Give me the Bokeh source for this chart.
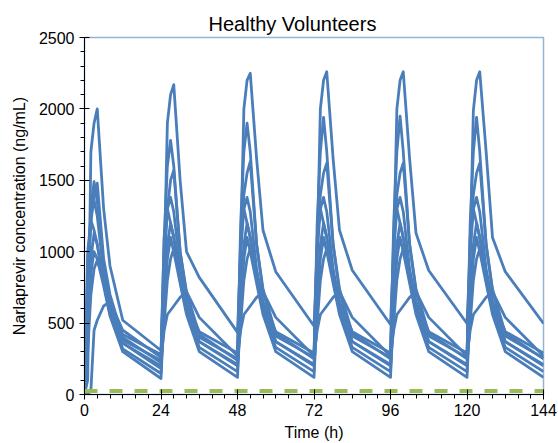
from bokeh.plotting import figure
from bokeh.models import Range1d, FixedTicker
from bokeh.embed import file_html
from bokeh.resources import INLINE

# ---- data ----
time_h = [0, 1, 2, 3, 4, 6, 8, 12,
          24, 25, 26, 27, 28, 30, 32, 36,
          48, 49, 50, 51, 52, 54, 56, 60,
          72, 73, 74, 75, 76, 78, 80, 84,
          96, 97, 98, 99, 100, 102, 104, 108,
          120, 121, 122, 123, 124, 126, 128, 132,
          144]

subj_a = [0, 100, 1700, 1900, 2000, 1300, 900, 520,
          308, 900, 1900, 2100, 2170, 1500, 1000, 820,
          435, 1000, 2000, 2200, 2250, 1650, 1150, 860,
          480, 1000, 2000, 2200, 2260, 1650, 1150, 870,
          490, 1000, 2000, 2200, 2260, 1650, 1130, 868,
          497, 1000, 1990, 2200, 2260, 1700, 1100, 860,
          497]
subj_b = [0, 800, 1300, 1490, 1350, 900, 650, 380,
          240, 1100, 1600, 1780, 1600, 1000, 700, 400,
          250, 1200, 1700, 1900, 1700, 1050, 720, 410,
          260, 1200, 1700, 1940, 1700, 1050, 720, 410,
          260, 1200, 1700, 1950, 1700, 1050, 720, 410,
          260, 1200, 1700, 1940, 1700, 1050, 720, 410,
          255]
subj_c = [0, 700, 1200, 1400, 1480, 950, 700, 400,
          224, 900, 1300, 1500, 1570, 1000, 720, 420,
          240, 1000, 1400, 1550, 1630, 1050, 740, 430,
          250, 1000, 1400, 1550, 1620, 1050, 740, 430,
          250, 1000, 1400, 1550, 1620, 1050, 740, 430,
          250, 1000, 1400, 1550, 1620, 1050, 740, 430,
          250]
subj_d = [0, 900, 1250, 1360, 1250, 850, 620, 360,
          182, 1000, 1300, 1380, 1280, 880, 640, 370,
          200, 1000, 1300, 1380, 1280, 880, 640, 370,
          200, 1000, 1300, 1380, 1280, 880, 640, 370,
          200, 1000, 1300, 1380, 1280, 880, 640, 370,
          200, 1000, 1300, 1380, 1280, 880, 640, 370,
          200]
subj_e = [0, 1000, 1220, 1150, 1050, 800, 600, 420,
          280, 1100, 1300, 1200, 1100, 850, 650, 440,
          290, 1100, 1300, 1200, 1100, 850, 650, 440,
          290, 1100, 1300, 1200, 1100, 850, 650, 440,
          290, 1100, 1300, 1200, 1100, 850, 650, 440,
          290, 1100, 1300, 1200, 1100, 850, 650, 440,
          290]
subj_f = [0, 500, 950, 1130, 1050, 780, 560, 320,
          147, 700, 1050, 1200, 1100, 800, 580, 330,
          160, 700, 1050, 1200, 1100, 800, 580, 330,
          160, 700, 1050, 1200, 1100, 800, 580, 330,
          160, 700, 1050, 1200, 1100, 800, 580, 330,
          160, 700, 1050, 1200, 1100, 800, 580, 330,
          160]
subj_g = [0, 400, 850, 1000, 950, 760, 550, 300,
          112, 600, 950, 1100, 1000, 780, 560, 300,
          120, 600, 950, 1100, 1000, 780, 560, 300,
          120, 600, 950, 1100, 1000, 780, 560, 300,
          120, 600, 950, 1100, 1000, 780, 560, 300,
          120, 600, 950, 1100, 1000, 780, 560, 300,
          120]
subj_h = [0, 300, 700, 880, 940, 800, 600, 360,
          200, 500, 800, 950, 1020, 850, 620, 370,
          210, 500, 800, 950, 1020, 850, 620, 370,
          210, 500, 800, 950, 1020, 850, 620, 370,
          210, 500, 800, 950, 1020, 850, 620, 370,
          210, 500, 800, 950, 1020, 850, 620, 370,
          210]
subj_i = [0, 0, 30, 450, 520, 620, 650, 450,
          260, 450, 560, 590, 620, 680, 720, 540,
          270, 450, 560, 590, 620, 680, 720, 540,
          270, 450, 560, 590, 620, 680, 720, 540,
          270, 450, 560, 590, 620, 680, 720, 540,
          270, 450, 560, 590, 620, 680, 720, 540,
          270]
subjects = [subj_a, subj_b, subj_c, subj_d, subj_e, subj_f, subj_g, subj_h, subj_i]

lloq_time = [0, 144]
lloq_conc = [25, 25]

x_ticks = [0, 24, 48, 72, 96, 120, 144]
x_minor = [4, 8, 12, 16, 20, 28, 32, 36, 40, 44, 52, 56, 60, 64, 68,
           76, 80, 84, 88, 92, 100, 104, 108, 112, 116, 124, 128, 132, 136, 140]
y_ticks = [0, 500, 1000, 1500, 2000, 2500]
y_minor = [100, 200, 300, 400, 600, 700, 800, 900, 1100, 1200, 1300, 1400,
           1600, 1700, 1800, 1900, 2100, 2200, 2300, 2400]

FONT = "Liberation Sans"

p = figure(width=558, height=443, x_range=Range1d(0, 144), y_range=Range1d(0, 2500),
           output_backend="svg", toolbar_location=None, title="Healthy  Volunteers",
           min_border_left=84, min_border_right=15, min_border_top=37, min_border_bottom=49)

p.title.align = "left"
p.title.offset = 124
p.title.text_font = FONT
p.title.text_font_style = "normal"
p.title.text_font_size = "20px"
p.title.text_color = "#000000"
p.title.standoff = 6

p.xgrid.visible = False
p.ygrid.visible = False
p.outline_line_color = "#95b3d7"
p.outline_line_width = 1.5
p.background_fill_color = "white"
p.border_fill_color = "white"

for ax, ticks, minor in ((p.xaxis[0], x_ticks, x_minor), (p.yaxis[0], y_ticks, y_minor)):
    ax.ticker = FixedTicker(ticks=ticks, minor_ticks=minor)
    ax.axis_line_color = "#000000"
    ax.axis_line_width = 1
    ax.major_tick_line_color = "#000000"
    ax.minor_tick_line_color = "#000000"
    ax.major_tick_in = 5
    ax.major_tick_out = 5
    ax.minor_tick_in = 0
    ax.minor_tick_out = 4
    ax.major_label_text_font = FONT
    ax.major_label_text_font_size = "16px"
    ax.major_label_text_color = "#000000"
    ax.axis_label_text_font = FONT
    ax.axis_label_text_font_size = "16px"
    ax.axis_label_text_font_style = "normal"
    ax.axis_label_text_color = "#000000"

p.xaxis.axis_label = "Time (h)"
p.yaxis.axis_label = "Narlaprevir concentration (ng/mL)"
p.xaxis.major_label_standoff = 4
p.xaxis.axis_label_standoff = 5
p.yaxis.major_label_standoff = 5
p.yaxis.axis_label_standoff = 8

for s in subjects:
    p.line(time_h, s, line_color="#4a7ebb", line_width=2.8, line_join="round")

p.line(lloq_time, lloq_conc, line_color="#9bbb59", line_width=4, line_dash="13 12")

open("out.html", "w").write(file_html(p, INLINE))
